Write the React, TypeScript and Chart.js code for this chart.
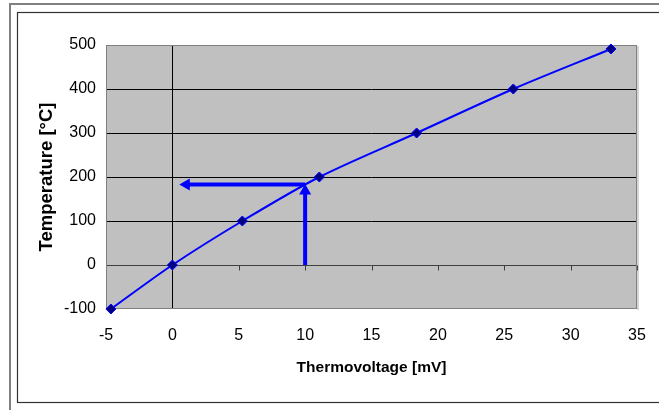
import React, { useEffect, useRef } from "react";
import { Chart, registerables } from "chart.js";

Chart.register(...registerables);

// Data
const voltages = [-4.63, 0, 5.27, 11.07, 18.4, 25.68, 33.04];
const temperatures = [-100, 0, 100, 200, 300, 400, 491];

const xTickValues = [-5, 0, 5, 10, 15, 20, 25, 30, 35];
const yTickValues = [-100, 0, 100, 200, 300, 400, 500];

// Reading arrows: up from 10 mV, then left at ~183 °C
const upArrowX = [10, 10];
const upArrowY = [0, 168];
const leftArrowX = [10, 1.05];
const leftArrowY = [183, 183];

const xTitle = "Thermovoltage [mV]";
const yTitle = "Temperature [°C]";

const FONT = "'Liberation Sans', Arial, sans-serif";

const framePlugin = {
  id: "excelFrame",
  beforeDraw(chart: any) {
    const { ctx, chartArea: a, scales } = chart;
    const xs = scales.x;
    const ys = scales.y;
    const W = chart.width;
    const H = chart.height;
    ctx.save();
    ctx.fillStyle = "#ffffff";
    ctx.fillRect(0, 0, W, H);
    // outer grey frame
    ctx.fillStyle = "#808080";
    ctx.fillRect(9, 3, 2, H);
    ctx.fillRect(9, 3, W, 2);
    // inner dark frame
    ctx.strokeStyle = "#333333";
    ctx.lineWidth = 1.2;
    ctx.strokeRect(17.5, 12.5, W + 10, 390);
    // plot area
    ctx.fillStyle = "#C0C0C0";
    ctx.fillRect(a.left, a.top, a.right - a.left, a.bottom - a.top);
    // shadow on the right
    ctx.fillStyle = "#d6d6d6";
    ctx.fillRect(a.right, a.top + 1, 2, a.bottom - a.top);
    // horizontal gridlines
    ctx.lineWidth = 1;
    ctx.strokeStyle = "#000000";
    for (const v of yTickValues) {
      if (v === yTickValues[0] || v === yTickValues[yTickValues.length - 1] || v === 0) continue;
      const py = Math.round(ys.getPixelForValue(v)) + 0.5;
      ctx.beginPath();
      ctx.moveTo(a.left, py);
      ctx.lineTo(a.right, py);
      ctx.stroke();
    }
    // vertical axis at x = 0
    const px0 = Math.round(xs.getPixelForValue(0)) + 0.5;
    ctx.beginPath();
    ctx.moveTo(px0, a.top);
    ctx.lineTo(px0, a.bottom);
    ctx.stroke();
    // horizontal axis at y = 0 with tick marks
    const py0 = Math.round(ys.getPixelForValue(0)) + 0.5;
    ctx.strokeStyle = "#404040";
    ctx.beginPath();
    ctx.moveTo(a.left, py0);
    ctx.lineTo(a.right, py0);
    ctx.stroke();
    for (const v of xTickValues) {
      const px = Math.round(xs.getPixelForValue(v)) + 0.5;
      ctx.beginPath();
      ctx.moveTo(px, py0);
      ctx.lineTo(px, py0 + 5);
      ctx.stroke();
    }
    // plot border
    ctx.strokeStyle = "#808080";
    ctx.strokeRect(a.left + 0.5, a.top + 0.5, a.right - a.left - 1, a.bottom - a.top - 1);
    ctx.restore();
  },
};

export default function App() {
  const canvasRef = useRef<HTMLCanvasElement | null>(null);

  useEffect(() => {
    const canvas = canvasRef.current;
    if (!canvas) return;
    const curve = voltages.map((v, i) => ({ x: v, y: temperatures[i] }));
    const up = upArrowX.map((v, i) => ({ x: v, y: upArrowY[i] }));
    const left = leftArrowX.map((v, i) => ({ x: v, y: leftArrowY[i] }));

    const chart = new Chart(canvas, {
      type: "scatter",
      data: {
        datasets: [
          {
            data: curve,
            showLine: true,
            clip: false,
            borderColor: "#0000FF",
            borderWidth: 2,
            tension: 0.3,
            pointStyle: "rectRot",
            pointRadius: 5,
            pointBackgroundColor: "#000080",
            pointBorderColor: "#0000FF",
            pointBorderWidth: 1,
          },
          {
            data: up,
            showLine: true,
            clip: false,
            borderColor: "#0000FF",
            borderWidth: 4,
            pointStyle: "triangle",
            pointRadius: [0, 7],
            pointRotation: 0,
            pointBackgroundColor: "#0000FF",
            pointBorderColor: "#0000FF",
            pointBorderWidth: 0,
          },
          {
            data: left,
            showLine: true,
            clip: false,
            borderColor: "#0000FF",
            borderWidth: 4,
            pointStyle: "triangle",
            pointRadius: [0, 7],
            pointRotation: -90,
            pointBackgroundColor: "#0000FF",
            pointBorderColor: "#0000FF",
            pointBorderWidth: 0,
          },
        ],
      } as any,
      options: {
        responsive: false,
        animation: false,
        devicePixelRatio: 1,
        layout: { padding: { left: 0, top: 45, right: 22, bottom: 0 } },
        plugins: { legend: { display: false }, tooltip: { enabled: false } },
        events: [],
        scales: {
          x: {
            type: "linear",
            min: -5,
            max: 35,
            afterBuildTicks: (s: any) => {
              s.ticks = xTickValues.map((v) => ({ value: v }));
            },
            afterFit: (s: any) => {
              s.height = 101;
              s.paddingLeft = 0;
              s.paddingRight = 0;
            },
            grid: { display: false, drawTicks: false, tickLength: 0 },
            border: { display: false },
            ticks: {
              color: "#000",
              padding: 17,
              maxRotation: 0,
              autoSkip: false,
              font: { family: FONT, size: 16 },
            },
            title: {
              display: true,
              text: xTitle,
              color: "#000",
              padding: { top: 0, bottom: 33 },
              font: { family: FONT, size: 15.5, weight: "bold" },
            },
          },
          y: {
            type: "linear",
            min: -100,
            max: 500,
            afterBuildTicks: (s: any) => {
              s.ticks = yTickValues.map((v) => ({ value: v }));
            },
            afterFit: (s: any) => {
              s.width = 106;
              s.paddingTop = 0;
              s.paddingBottom = 0;
            },
            grid: { display: false, drawTicks: false, tickLength: 0 },
            border: { display: false },
            ticks: {
              color: "#000",
              padding: 10,
              autoSkip: false,
              font: { family: FONT, size: 16 },
            },
            title: {
              display: true,
              text: yTitle,
              color: "#000",
              padding: { top: 35.5, bottom: 0 },
              font: { family: FONT, size: 18.5, weight: "bold" },
            },
          },
        },
      } as any,
      plugins: [framePlugin],
    });
    return () => chart.destroy();
  }, []);

  return (
    <div style={{ position: "absolute", left: 0, top: 0, width: 659, height: 410, background: "#fff" }}>
      <canvas ref={canvasRef} width={659} height={410} style={{ width: 659, height: 410, display: "block" }} />
    </div>
  );
}
